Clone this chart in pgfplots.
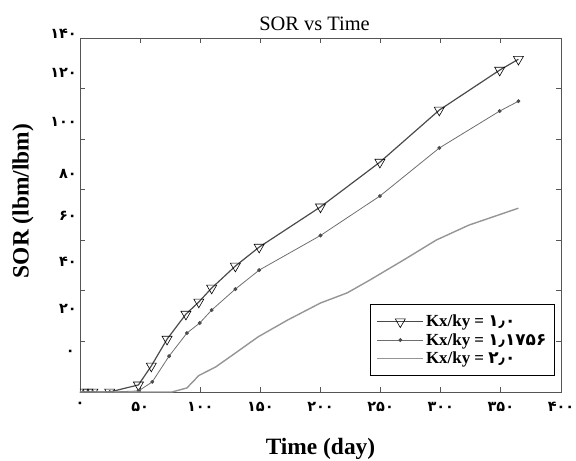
\documentclass[border=0pt]{standalone}
\usepackage{fontspec}
\setmainfont{Liberation Serif}
\newfontfamily\fa[Script=Arabic]{DejaVu Sans}
\usepackage{pgfplots}
\pgfplotsset{compat=1.18}
\definecolor{cA}{HTML}{4A4A4A}
\definecolor{cB}{HTML}{6E6E6E}
\definecolor{cC}{HTML}{959595}
\definecolor{axc}{HTML}{555555}
\begin{document}
\begin{tikzpicture}
\useasboundingbox (-80bp,-69bp) rectangle (496bp,392bp);
\begin{axis}[
  at={(0,0)}, anchor=south west,
  scale only axis, width=481bp, height=354bp,
  xmin=0, xmax=400, ymin=0, ymax=140,
  xtick={0,50,...,400}, ytick={0,20,...,140},
  xticklabels={۰,۵۰,۱۰۰,۱۵۰,۲۰۰,۲۵۰,۳۰۰,۳۵۰,۴۰۰},
  yticklabels={},
  tick align=inside, tick pos=both, major tick length=5bp,
  axis line style={axc, line width=1pt},
  every tick/.style={axc, line width=0.8pt},
  tick label style={font=\fa\bfseries\fontsize{14.5}{17}\selectfont},
  xticklabel style={yshift=-7bp},
  title={SOR vs Time},
  title style={font=\fontsize{20.5}{24}\selectfont, yshift=-2bp, xshift=-6bp},
  xlabel={Time (day)},
  xlabel style={font=\bfseries\fontsize{23.5}{27}\selectfont, at={(axis description cs:0.5,-0.177)}, anchor=base},
  ylabel={SOR (lbm/lbm)},
  ylabel style={font=\bfseries\fontsize{23.5}{27}\selectfont, at={(axis description cs:-0.107,0.5395)}, anchor=base},
  clip marker paths=true,
  legend style={at={(axis description cs:0.603,0.044)}, anchor=south west, draw=black, line width=1.2pt,
    font=\bfseries\fontsize{17}{19}\selectfont, inner xsep=6pt, inner ysep=9pt, row sep=1pt,
    cells={anchor=west}},
  legend image code/.code={\draw[mark repeat=2,mark phase=2,#1] plot coordinates {(0bp,0bp) (23bp,0bp) (46bp,0bp)};},
]
\addplot[cA, line width=1.2pt, mark=triangle, mark size=5.8bp, mark options={rotate=180, fill=white, draw=black, line width=0.6pt, solid}]
coordinates {(2.5,0) (6.6,0) (10.7,0) (24.7,0) (48.6,2.8) (59.3,10.3) (72.4,20.9) (88.1,30.8) (98.8,35.6) (109.5,41.1) (129.2,49.8) (149,57.3) (200,73.2) (249.4,90.9) (298.8,111.5) (349,127.3) (364.6,131.6)};
\addlegendentry{Kx/ky = {\fa ۱٫۰}}
\addplot[cB, line width=0.8pt, mark=*, mark size=1.5bp, mark options={fill=cA, draw=cA, solid}]
coordinates {(2.5,0) (6.6,0) (10.7,0) (24.7,0) (48.6,0.4) (60.1,4.0) (74.1,14.2) (88.9,23.3) (99.6,27.3) (109.5,32.4) (129.2,40.7) (149,48.2) (200,61.9) (249.4,77.5) (298.8,96.5) (349,111.1) (364.6,115.0)};
\addlegendentry{Kx/ky = {\fa ۱٫۱۷۵۶}}
\addplot[cC, line width=1.4pt]
coordinates {(0,0) (76.5,0) (88.9,1.6) (98.8,6.5) (112.8,9.9) (129.2,15.4) (148.1,21.8) (172.8,28.5) (200,35.2) (222.2,39.2) (241.1,44.3) (269.1,52.2) (296.3,60.1) (323.4,66) (364.6,72.7)};
\addlegendentry{Kx/ky = {\fa ۲٫۰}}
\end{axis}
\begin{scope}[every node/.style={anchor=east, inner sep=0pt, font=\fa\bfseries\fontsize{14.5}{17}\selectfont}]
\node at (-3bp,{(392-34)*1bp}) {۱۴۰};
\node at (-3bp,{(392-73)*1bp}) {۱۲۰};
\node at (-3bp,{(392-122)*1bp}) {۱۰۰};
\node at (-3bp,{(392-174)*1bp}) {۸۰};
\node at (-3bp,{(392-216)*1bp}) {۶۰};
\node at (-3bp,{(392-262)*1bp}) {۴۰};
\node at (-3bp,{(392-309)*1bp}) {۲۰};
\node at (-5bp,{(392-353)*1bp}) {۰};
\end{scope}
\end{tikzpicture}
\end{document}
